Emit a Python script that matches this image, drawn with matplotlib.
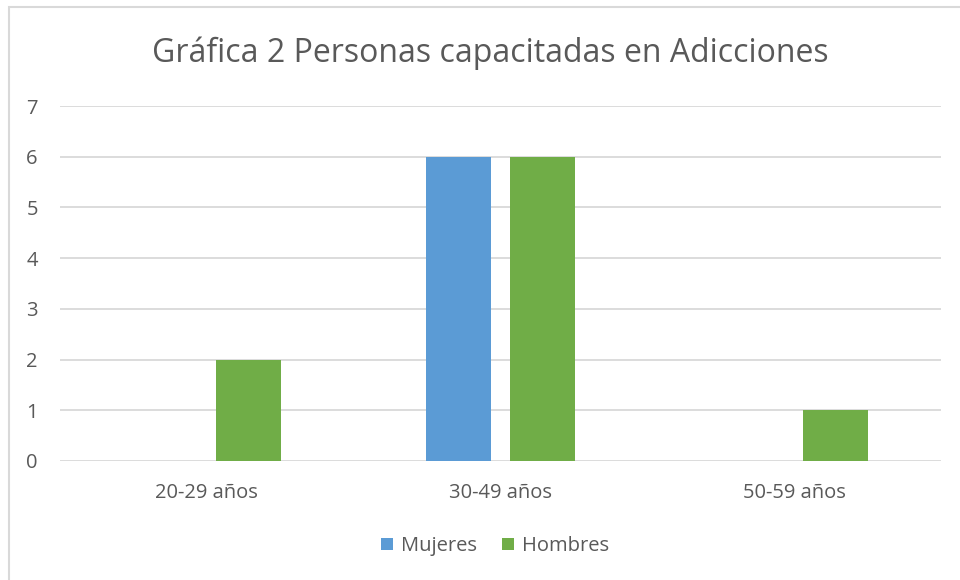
import matplotlib
matplotlib.use("Agg")
import matplotlib.pyplot as plt
from matplotlib.patches import Rectangle
import numpy as np

categories = ["20-29 años", "30-49 años", "50-59 años"]
mujeres = [0, 6, 0]
hombres = [2, 6, 1]
title = "Gráfica 2 Personas capacitadas en Adicciones"

plt.rcParams['font.family'] = ['Open Sans', 'DejaVu Sans']
txt = '#595959'
grid = '#d9d9d9'

fig = plt.figure(figsize=(9.6, 5.8), dpi=100)
W, H = 960, 580
# outer border (top and left visible)
fig.patches.append(Rectangle((9 / W, -0.1), 1.2, 1 - 7 / H + 0.1, transform=fig.transFigure,
                             fill=False, edgecolor=grid, linewidth=1.5))

ax = fig.add_axes([60 / W, 1 - 461 / H, 881 / W, (461 - 106) / H])
x = np.arange(len(categories))
bw = 0.222
off = 0.142
ax.bar(x - off, mujeres, bw, color='#5B9BD5', label='Mujeres', zorder=3)
ax.bar(x + off, hombres, bw, color='#70AD47', label='Hombres', zorder=3)

ax.set_xlim(-0.5, 2.5)
ax.set_ylim(0, 7)
ax.set_yticks(range(0, 8))
ax.yaxis.grid(True, color=grid, linewidth=1.3, zorder=0)
ax.set_axisbelow(True)
for s in ax.spines.values():
    s.set_visible(False)
ax.tick_params(axis='both', length=0, colors=txt, labelsize=14.5)
ax.tick_params(axis='y', pad=16)
ax.tick_params(axis='x', pad=16)
ax.set_xticks(x)
ax.set_xticklabels(categories)

fig.text(490 / W, 1 - 53 / H, title, ha='center', va='center', fontsize=23, color=txt)

leg = fig.legend(loc='center', bbox_to_anchor=(495 / W, 1 - 546 / H), ncol=2, frameon=False,
                 fontsize=14.5, handlelength=0.6, handleheight=0.6, handletextpad=0.4,
                 columnspacing=1.2, labelcolor=txt)

fig.savefig('out.png', dpi=100, facecolor='white')
